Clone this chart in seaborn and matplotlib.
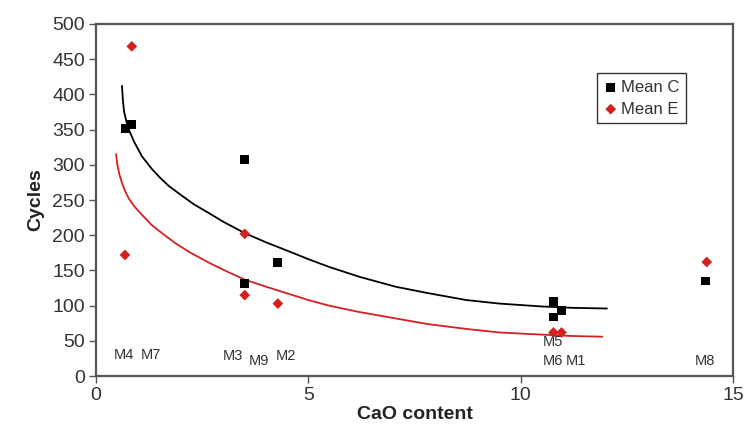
import matplotlib
matplotlib.use("Agg")
import matplotlib.pyplot as plt
import seaborn as sns
import pandas as pd

# Data points
cao_c = [0.70, 0.84, 3.50, 3.50, 4.28, 10.77, 10.77, 10.96, 14.35]
mean_c = [352, 357, 308, 131, 161, 106, 84, 93, 135]
cao_e = [0.68, 0.84, 3.50, 3.50, 4.28, 10.77, 10.96, 14.38]
mean_e = [172, 468, 202, 115, 103, 62, 62, 162]

# Trend curves
curve_c_x = [0.61, 0.63, 0.66, 0.72, 0.77, 0.90, 1.08, 1.30, 1.50, 1.71, 2.00, 2.30,
             2.64, 3.00, 3.50, 4.00, 4.63, 5.00, 5.49, 6.20, 7.05, 7.80, 8.72, 9.50,
             10.47, 11.20, 12.03]
curve_c_y = [412, 392, 375, 360, 350, 332, 312, 295, 282, 270, 257, 244,
             232, 219, 203, 190, 175, 166, 155, 141, 127, 118, 108, 103,
             99, 97, 96]
curve_e_x = [0.47, 0.50, 0.55, 0.61, 0.68, 0.77, 0.90, 1.08, 1.30, 1.55, 1.86, 2.20,
             2.69, 3.10, 3.50, 4.00, 4.63, 5.00, 5.49, 6.20, 7.05, 7.80, 8.72, 9.50,
             10.47, 11.20, 11.92]
curve_e_y = [315, 300, 286, 274, 263, 252, 241, 229, 215, 203, 189, 176,
             160, 148, 137, 127, 115, 108, 100, 91, 82, 74, 67, 62,
             59, 57, 56]

# Sample labels
label_text = ["M4", "M7", "M3", "M9", "M2", "M5", "M6", "M1", "M8"]
label_x = [0.42, 1.05, 2.99, 3.60, 4.24, 10.51, 10.51, 11.05, 14.09]
label_y = [30, 30, 28, 22, 28, 48, 22, 22, 22]

xticks = [0, 5, 10, 15]
yticks = list(range(0, 501, 50))

sns.set_theme(style="white")
plt.rcParams["font.family"] = ["Liberation Sans", "DejaVu Sans"]

fig = plt.figure(figsize=(7.45, 4.26), dpi=100)
ax = fig.add_axes([0.129, 0.117, 0.855, 0.827])

dc = pd.DataFrame({"x": curve_c_x, "y": curve_c_y})
de = pd.DataFrame({"x": curve_e_x, "y": curve_e_y})
sns.lineplot(data=dc, x="x", y="y", ax=ax, color="black", lw=1.3, sort=False, estimator=None)
sns.lineplot(data=de, x="x", y="y", ax=ax, color="#d42020", lw=1.3, sort=False, estimator=None)

pc = pd.DataFrame({"x": cao_c, "y": mean_c})
pe = pd.DataFrame({"x": cao_e, "y": mean_e})
sns.scatterplot(data=pc, x="x", y="y", ax=ax, marker="s", s=40, color="black",
                edgecolor="none", label="Mean C", zorder=5)
sns.scatterplot(data=pe, x="x", y="y", ax=ax, marker="D", s=30, color="#d42020",
                edgecolor="none", label="Mean E", zorder=5)

for t, x, y in zip(label_text, label_x, label_y):
    ax.text(x, y, t, fontsize=10.5, color="#333333", ha="left", va="center")

ax.set_xlim(0, 15)
ax.set_ylim(0, 500)
ax.set_xticks(xticks)
ax.set_yticks(yticks)
ax.tick_params(axis="both", direction="out", length=5, width=1, color="#555555",
               labelsize=14, labelcolor="#333333", bottom=True, left=True, pad=3)
ax.set_xlabel("CaO content", fontsize=14, fontweight="bold", color="#222222", labelpad=1)
ax.set_ylabel("Cycles", fontsize=14, fontweight="bold", color="#222222", labelpad=6)

for s in ax.spines.values():
    s.set_visible(True)
    s.set_color("#555555")
    s.set_linewidth(1.6)

leg = ax.legend(loc="upper left", bbox_to_anchor=(0.787, 0.86), fontsize=12,
                frameon=True, fancybox=False, handletextpad=0.2, borderpad=0.4,
                handlelength=0.8, labelspacing=0.4, borderaxespad=0)
leg.get_frame().set_edgecolor("black")
leg.get_frame().set_linewidth(1.0)
for txt in leg.get_texts():
    txt.set_color("#333333")

fig.savefig("out.png", dpi=100, facecolor="white")
